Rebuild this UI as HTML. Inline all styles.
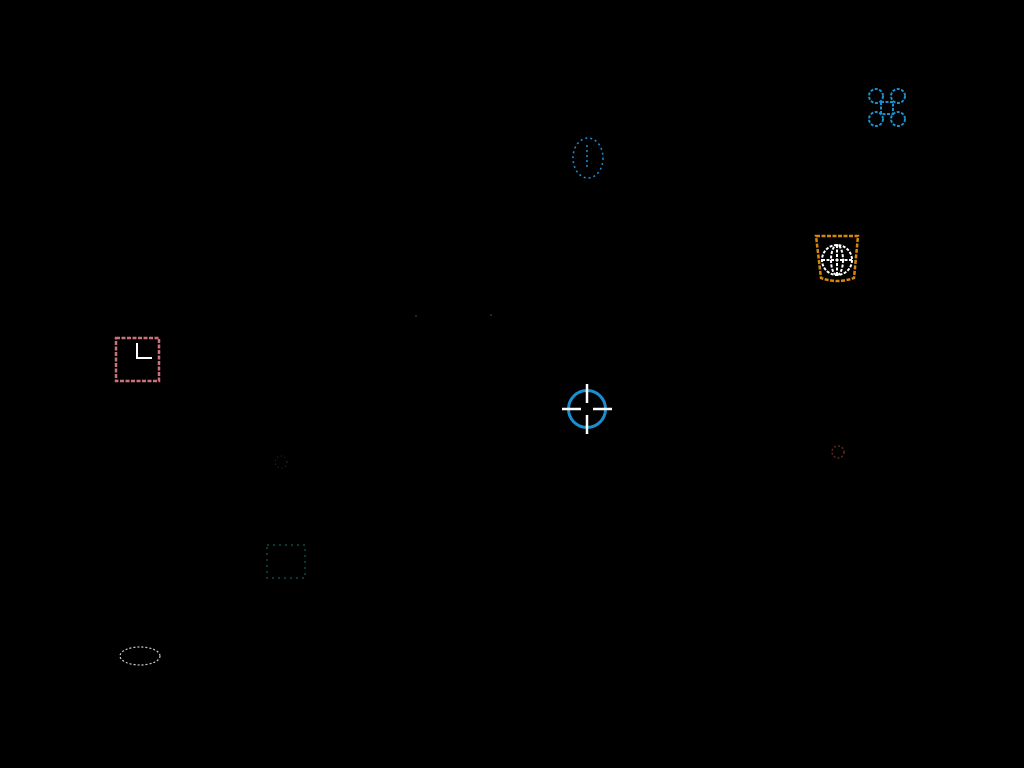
<!DOCTYPE html>
<html><head><style>
html,body{margin:0;padding:0;background:#000;width:1024px;height:768px;overflow:hidden}
</style></head><body>
<svg width="1024" height="768" viewBox="0 0 1024 768" xmlns="http://www.w3.org/2000/svg">
<rect width="1024" height="768" fill="#000"/>
<!-- command icon -->
<g stroke="#1a8fd0" stroke-width="2" fill="none" stroke-dasharray="3 1.5">
<circle cx="876" cy="96" r="7"/><circle cx="898" cy="96" r="7"/>
<circle cx="876" cy="119" r="7"/><circle cx="898" cy="119" r="7"/>
<rect x="881" y="102" width="12" height="12"/>
</g>
<!-- blue oval -->
<g stroke="#1a8fd0" stroke-width="1.5" fill="none" stroke-dasharray="2 3">
<ellipse cx="588" cy="158" rx="15" ry="20"/>
<line x1="587" y1="145" x2="587" y2="170"/>
</g>
<!-- orange cup with globe -->
<path d="M816 236 L858 236 L854 278 Q837 284 821 278 Z" stroke="#d4870f" stroke-width="2.5" fill="none" stroke-dasharray="4 1.5"/>
<g stroke="#fff" stroke-width="2" fill="none" stroke-dasharray="3 1.5">
<circle cx="837" cy="260" r="15"/>
<ellipse cx="837" cy="260" rx="6" ry="15"/>
<line x1="822" y1="260" x2="852" y2="260"/>
<line x1="837" y1="245" x2="837" y2="275"/>
</g>
<!-- pink square -->
<rect x="116" y="338" width="43" height="43" stroke="#c9727a" stroke-width="2.5" fill="none" stroke-dasharray="4 1.5"/>
<path d="M137 343 L137 358 L152 358" stroke="#fff" stroke-width="2" fill="none"/>
<!-- crosshair -->
<circle cx="587" cy="409" r="18.5" stroke="#1a8fd0" stroke-width="3" fill="none"/>
<g stroke="#fff" stroke-width="2.5">
<line x1="587" y1="384" x2="587" y2="403"/>
<line x1="587" y1="415" x2="587" y2="434"/>
<line x1="562" y1="409" x2="581" y2="409"/>
<line x1="593" y1="409" x2="612" y2="409"/>
</g>
<!-- faint marks -->
<circle cx="838" cy="452" r="6" stroke="#5a2a1a" stroke-width="1.5" fill="none" stroke-dasharray="2 2"/>
<circle cx="281" cy="462" r="6" stroke="#333" stroke-width="1" fill="none" stroke-dasharray="1 3"/>
<rect x="267" y="545" width="38" height="33" stroke="#0f5a5a" stroke-width="1.2" fill="none" stroke-dasharray="2 4"/>
<g stroke="#ccc" stroke-width="1.2" fill="none" stroke-dasharray="2 2">
<ellipse cx="140" cy="656" rx="20" ry="9"/>
</g>
<circle cx="416" cy="316" r="1" fill="#333"/><circle cx="491" cy="315" r="1" fill="#333"/>
</svg>
</body></html>
